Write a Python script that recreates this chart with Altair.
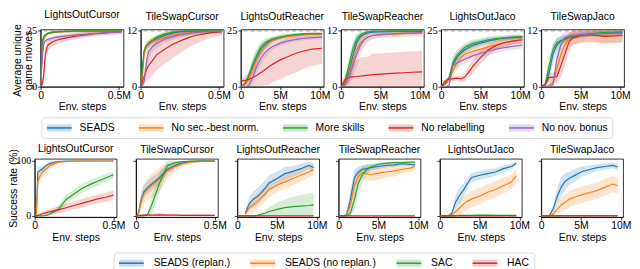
import altair as alt
import pandas as pd

SANS = "Liberation Sans"
SERIF = "Liberation Serif"

TITLES = ["LightsOutCursor", "TileSwapCursor", "LightsOutReacher",
          "TileSwapReacher", "LightsOutJaco", "TileSwapJaco"]
MAX_MOVES = [25, 12, 25, 12, 25, 12]

TOP_METHODS = ["SEADS", "No sec.-best norm.", "More skills", "No relabelling", "No nov. bonus"]
TOP_COLORS = ["#1f77b4", "#ff7f0e", "#2ca02c", "#d62728", "#9467bd"]
BOT_METHODS = ["SEADS (replan.)", "SEADS (no replan.)", "SAC", "HAC"]
BOT_COLORS = ["#1f77b4", "#ff7f0e", "#2ca02c", "#d62728"]

# x positions (millions of env. steps)
X_CUR_TOP = [0, 0.01, 0.02, 0.03, 0.04, 0.05, 0.075, 0.1, 0.15, 0.2, 0.25, 0.3, 0.35, 0.4, 0.45, 0.52]
X_LONG_TOP = [0, 0.5, 1, 1.5, 2, 2.5, 3, 3.5, 4, 5, 6, 7, 8, 9, 10.3]
X_CUR_BOT = [0, 0.01, 0.02, 0.03, 0.04, 0.05, 0.075, 0.1, 0.15, 0.2, 0.25, 0.3, 0.35, 0.4, 0.45, 0.5]
X_LONG_BOT = [0, 0.5, 1, 1.5, 2, 2.5, 3, 3.5, 4, 5, 6, 7, 8, 9, 9.6]

# ---------------- top row: average unique game moves ----------------
# order: SEADS, No sec.-best norm., More skills, No relabelling, No nov. bonus
LOC_TOP = [
    [0, 18, 22, 23, 23.5, 24, 24.3, 24.5, 24.7, 24.8, 24.9, 24.9, 25, 25, 25, 25],
    [0, 16, 21, 22.5, 23.3, 23.8, 24.2, 24.4, 24.6, 24.8, 24.9, 24.9, 25, 25, 25, 25],
    [0, 20, 22.5, 23.2, 23.6, 24, 24.3, 24.5, 24.8, 24.9, 25, 25, 25, 25, 25, 25],
    [0, 1, 5, 14, 17.5, 18.8, 20, 20.8, 21.6, 22.3, 22.8, 23.3, 23.7, 24, 24.3, 24.6],
    [0, 12, 19, 20.5, 21, 21.3, 21.8, 22.2, 22.6, 23, 23.3, 23.6, 23.9, 24.1, 24.3, 24.5],
]
LOC_TOP_BAND = [0.5, 0.8, 0.4,
                [0, 1, 3, 4, 3, 2.5, 2, 1.8, 1.5, 1.3, 1.2, 1.2, 1, 1, 1, 0.8], 1.0]

TSC_TOP = [
    [0, 3, 7, 8.3, 8.8, 9.2, 9.8, 10.3, 11, 11.5, 11.8, 11.9, 12, 12, 12, 12],
    [0, 2, 6.5, 8, 8.6, 9, 9.6, 10, 10.6, 11, 11.3, 11.5, 11.7, 11.8, 11.9, 12],
    [0, 3.5, 7.5, 8.5, 9, 9.4, 10, 10.6, 11.3, 11.7, 11.9, 12, 12, 12, 12, 12],
    [0, 1, 2, 3, 3.8, 4.5, 5.6, 6.8, 8, 9, 9.8, 10.5, 11, 11.3, 11.6, 11.8],
    [0, 0.3, 1, 3, 6, 7.5, 8.6, 9.3, 10.2, 10.7, 11.1, 11.4, 11.6, 11.8, 11.9, 11.9],
]
TSC_TOP_BAND = [0.6,
                [0, 1, 2, 1.5, 1.2, 1, 1, 1, 0.8, 0.8, 0.6, 0.5, 0.5, 0.4, 0.4, 0.3],
                0.5,
                [0, 1, 1.5, 2, 2.5, 3, 3.2, 3.3, 3.2, 3, 2.6, 2.2, 1.8, 1.4, 1.1, 0.8],
                [0, 0.5, 1, 2, 2, 1.5, 1.2, 1, 0.8, 0.7, 0.6, 0.5, 0.5, 0.4, 0.4, 0.3]]

LOR_TOP = [
    [0, 1, 4, 9, 13, 16.5, 18.5, 20, 21, 22, 22.8, 23.2, 23.5, 23.6, 23.7],
    [0, 1, 3.5, 8, 12, 15, 17.5, 19.3, 20.5, 21.8, 22.5, 23, 23.3, 23.5, 23.6],
    [0, 1.5, 5, 10, 14, 17.5, 19.5, 20.5, 21.3, 22.2, 22.9, 23.3, 23.6, 23.7, 23.8],
    [2.5, 2.8, 3.3, 4, 5, 6.2, 7.5, 8.8, 10, 12, 13.5, 15, 16, 16.8, 17.2],
    [0, 0, 0.5, 4, 9, 12.5, 15, 16.8, 18, 19.5, 20.5, 21.2, 21.7, 22, 22.2],
]
LOR_TOP_BAND = [[0, 0.5, 2, 3, 3, 2.5, 2, 1.5, 1.2, 1, 0.8, 0.7, 0.6, 0.5, 0.5],
                [0, 0.5, 2, 3, 3, 2.8, 2.2, 1.8, 1.4, 1.1, 0.9, 0.8, 0.7, 0.6, 0.6],
                [0, 0.6, 2, 3, 3, 2.5, 2, 1.5, 1.2, 1, 0.8, 0.7, 0.6, 0.5, 0.5],
                [1, 2, 3, 4, 5, 6, 7, 8, 8, 8.5, 8.5, 8.5, 8, 7.5, 7],
                [0, 0.3, 1, 3, 3, 3, 2.5, 2, 1.5, 1.2, 1, 1, 1, 1, 1]]

TSR_TOP = [
    [0, 0.5, 3, 6.5, 9.5, 10.8, 11.3, 11.6, 11.7, 11.8, 11.8, 11.9, 11.9, 11.9, 11.9],
    [0, 0.5, 2.5, 5.5, 8, 9.5, 10.3, 10.8, 11, 11.2, 11.3, 11.3, 11.4, 11.5, 11.5],
    [0, 1, 4.5, 8, 10.3, 11.2, 11.6, 11.8, 11.9, 11.9, 12, 12, 12, 12, 12],
    [0, 1.5, 2, 2.1, 2.2, 2.3, 2.4, 2.5, 2.6, 2.7, 2.8, 2.9, 3.0, 3.1, 3.2],
    [0, 0.3, 2, 4.5, 7, 9, 10.2, 10.7, 11, 11.2, 11.3, 11.4, 11.5, 11.5, 11.6],
]
TSR_TOP_BAND = [[0, 0.5, 2, 2.5, 1.5, 0.8, 0.5, 0.4, 0.3, 0.3, 0.3, 0.3, 0.3, 0.3, 0.3],
                [0, 0.5, 2, 2.5, 2, 1.5, 1, 0.8, 0.7, 0.7, 0.7, 0.7, 0.7, 0.7, 0.7],
                [0, 0.8, 2, 1.5, 1, 0.6, 0.4, 0.3, 0.3, 0.8, 0.3, 0.3, 0.3, 0.3, 0.3],
                [0.5, 1, 2, 3, 3.5, 4, 4, 4, 4.5, 4.5, 4.5, 4.5, 4.5, 4.5, 4.5],
                [0, 0.3, 1.5, 2.5, 2.5, 2, 1.5, 1, 0.8, 0.6, 0.5, 0.5, 0.5, 0.5, 0.5]]

LOJ_TOP = [
    [0, 1, 3, 10, 13, 15, 16.5, 17.5, 18.5, 19.5, 20.5, 21.2, 21.7, 22, 22.2],
    [0, 1, 3, 7, 10.5, 13, 14.5, 15.2, 15.8, 16.8, 17.8, 18.8, 19.6, 20.3, 21],
    [0, 1.5, 4, 11, 14, 16, 17.5, 18.5, 19.3, 20.2, 21, 21.5, 21.9, 22.2, 22.4],
    [0, 2.5, 3.5, 3.5, 3.8, 3.5, 4.3, 6.5, 9, 13, 16.5, 18.5, 19.8, 20.4, 21],
    [0, 0, 0.5, 9.5, 10.5, 11.5, 12.3, 13, 13.8, 15, 16, 16.8, 17.5, 18, 18.6],
]
LOJ_TOP_BAND = [[0, 0.5, 1, 2.5, 2.5, 2, 2, 2, 1.8, 1.5, 1.5, 1.2, 1, 1, 1],
                [0, 0.5, 1, 2.5, 3, 2.5, 2.5, 2.5, 2.5, 2, 2, 2, 1.8, 1.5, 1.5],
                [0, 0.5, 1, 2.5, 2.5, 2, 2, 2, 1.8, 1.5, 1.5, 1.2, 1, 1, 1],
                [0, 1, 1, 1, 1, 1.5, 2, 2.5, 3, 3, 2.5, 2, 1.8, 1.5, 1.5],
                [0, 0, 0.5, 2, 2, 2, 2, 2, 2, 2, 2, 1.8, 1.5, 1.5, 1.5]]

TSJ_TOP = [
    [0, 0.3, 3, 7, 9, 9.8, 10.3, 10.6, 10.8, 11.1, 11.3, 11.4, 11.5, 11.5, 11.6],
    [0, 0, 0.3, 1, 4, 7, 9, 10, 10.5, 11, 11, 11, 10.9, 10.9, 11],
    [0, 0.5, 4.5, 8, 9.5, 9.9, 10.1, 10.5, 10.8, 11.1, 11.3, 11.5, 11.6, 11.7, 11.8],
    [0, 0.5, 2, 2, 2.2, 4.5, 7, 9.5, 10.5, 11, 11.2, 11, 10.8, 10.9, 11],
    [0, 0, 0, 0.5, 6, 9, 10.5, 10.8, 11, 11.2, 11.3, 11.4, 11.4, 11.5, 11.5],
]
TSJ_TOP_BAND = [[0, 0.3, 2, 2, 1.5, 1, 0.8, 0.7, 0.6, 0.6, 0.5, 0.5, 0.5, 0.5, 0.5],
                [0, 0, 0.3, 1, 2.5, 2.5, 2, 1.5, 1.5, 1.5, 1.5, 1.5, 1.5, 1.5, 1.5],
                [0, 0.5, 2, 1.5, 1, 0.8, 0.7, 0.6, 0.5, 0.5, 0.5, 0.5, 0.5, 0.5, 0.5],
                [0, 0.5, 1, 1, 1.5, 2.5, 2.5, 2, 1.5, 1.5, 1.5, 1.5, 1.5, 1.5, 1.5],
                [0, 0, 0, 0.5, 2.5, 2, 1.2, 1, 0.8, 0.7, 0.6, 0.6, 0.6, 0.6, 0.6]]

# ---------------- bottom row: success rate (%) ----------------
# order: SEADS (replan.), SEADS (no replan.), SAC, HAC
LOC_BOT = [
    [0, 0, 80, 82, 84, 86, 92, 96, 99, 100, 100, 100, 100, 100, 100, 100],
    [0, 0, 62, 70, 75, 80, 86, 92, 98, 99, 100, 100, 100, 100, 100, 100],
    [0, 0, 0, 0, 0, 0, 1, 4, 12, 30, 40, 50, 57, 63, 69, 75],
    [0, 0, 1, 2, 3, 4, 6, 8, 11, 15, 19, 23, 27, 31, 34, 38],
]
LOC_BOT_BAND = [[0, 0, 12, 8, 6, 5, 4, 3, 1, 0, 0, 0, 0, 0, 0, 0],
                [0, 0, 15, 12, 10, 9, 8, 6, 3, 1, 0.5, 0, 0, 0, 0, 0],
                [0, 0, 0, 0, 0, 0, 1, 3, 6, 8, 8, 8, 8, 8, 7, 6],
                [0, 0, 1, 2, 3, 3, 4, 5, 6, 7, 7, 8, 8, 8, 8, 8]]

TSC_BOT = [
    [0, 0, 12, 26, 36, 44, 52, 58, 70, 85, 92, 97, 99, 100, 100, 100],
    [0, 0, 8, 22, 32, 40, 48, 55, 67, 82, 90, 95, 98, 99, 100, 100],
    [0, 0, 0, 0, 0, 0, 3, 20, 60, 92, 97, 99, 100, 100, 100, 100],
    [0, 0, 0.5, 1, 1, 1.5, 1.5, 1.5, 2, 1.5, 1.5, 1, 1, 1, 1, 1],
]
TSC_BOT_BAND = [[0, 0, 8, 10, 12, 12, 12, 12, 12, 8, 5, 3, 1, 0, 0, 0],
                [0, 0, 8, 12, 15, 18, 20, 22, 22, 15, 8, 5, 2, 1, 0, 0],
                [0, 0, 0, 0, 0, 0, 3, 15, 18, 8, 3, 1, 0, 0, 0, 0],
                [0, 0, 1, 2, 2, 2.5, 2.5, 2.5, 3, 2.5, 2.5, 2, 2, 2, 2, 2]]

LOR_BOT = [
    [None, None, 5, 22, 30, 35, 42, 50, 60, 68, 77, 81, 86, 92, 88],
    [None, None, 3, 15, 20, 26, 33, 40, 48, 56, 62, 68, 74, 80, 85],
    [0, 0, 0, 0, 0, 1, 3, 5, 8, 12, 15, 17, 18, 19, 20],
    [0, 0, 0, 0, 0, 0, 0, 0, 0, 0, 0, 0, 0, 0, 0],
]
LOR_BOT_BAND = [[0, 0, 3, 12, 15, 15, 15, 15, 14, 13, 12, 10, 9, 6, 8],
                [0, 0, 3, 10, 14, 14, 14, 14, 14, 13, 13, 12, 12, 10, 10],
                [0, 0, 0, 0, 0, 1, 3, 5, 8, 12, 15, 18, 20, 22, 22],
                0.5]

TSR_BOT = [
    [0, 0, 2, 30, 70, 80, 85, 86, 88, 90, 92, 93, 95, 94, 93],
    [0, 0, 1, 20, 55, 72, 78, 77, 75, 78, 80, 82, 85, 87, 90],
    [0, 0, 0, 5, 30, 60, 75, 84, 89, 94, 96, 97, 97, 98, 98],
    [0, 0, 0, 0, 0, 0, 0, 0, 0, 0, 0, 0, 0, 0, 0],
]
TSR_BOT_BAND = [[0, 0, 2, 20, 15, 10, 8, 7, 6, 5, 4, 4, 3, 3, 3],
                [0, 0, 2, 20, 20, 12, 10, 12, 12, 12, 10, 10, 8, 7, 6],
                [0, 0, 0, 5, 20, 20, 15, 10, 6, 3, 2, 2, 2, 1, 1],
                0.5]

LOJ_BOT = [
    [0, 0, 0, 5, 26, 38, 48, 60, 70, 74, 77, 80, 86, 90, 96],
    [0, 0, 0, 2, 8, 15, 22, 27, 31, 36, 43, 48, 55, 62, 73],
    [0, 0, 0, 0, 0.5, 1, 1, 1, 1, 1.5, 1.5, 1, 1, 1, 1],
    [0, 0, 0, 0, 0, 0, 0, 0, 0, 0, 0, 0, 0, 0, 0],
]
LOJ_BOT_BAND = [[0, 0, 0, 4, 12, 15, 12, 10, 8, 8, 8, 7, 6, 5, 4],
                [0, 0, 0, 2, 6, 12, 15, 15, 15, 15, 15, 15, 14, 14, 12],
                1, 0.5]

TSJ_BOT = [
    [0, 0, 0, 12, 35, 52, 63, 68, 72, 80, 84, 88, 90, 92, 89],
    [0, 0, 0, 3, 12, 20, 25, 30, 33, 38, 42, 46, 52, 58, 55],
    [0, 0, 0, 0, 0, 0.5, 0.5, 0.5, 0.5, 0.5, 0.5, 0.5, 0.5, 0.5, 0.5],
    [0, 0, 0, 0, 0, 0, 0, 0, 0, 0, 0, 0, 0, 0, 0],
]
TSJ_BOT_BAND = [[0, 0, 0, 8, 15, 18, 15, 12, 12, 10, 8, 6, 6, 5, 6],
                [0, 0, 0, 3, 10, 12, 15, 15, 15, 15, 15, 15, 15, 15, 15],
                0.5, 0.5]

TOP_DATA = [(X_CUR_TOP, LOC_TOP, LOC_TOP_BAND), (X_CUR_TOP, TSC_TOP, TSC_TOP_BAND),
            (X_LONG_TOP, LOR_TOP, LOR_TOP_BAND), (X_LONG_TOP, TSR_TOP, TSR_TOP_BAND),
            (X_LONG_TOP, LOJ_TOP, LOJ_TOP_BAND), (X_LONG_TOP, TSJ_TOP, TSJ_TOP_BAND)]
BOT_DATA = [(X_CUR_BOT, LOC_BOT, LOC_BOT_BAND), (X_CUR_BOT, TSC_BOT, TSC_BOT_BAND),
            (X_LONG_BOT, LOR_BOT, LOR_BOT_BAND), (X_LONG_BOT, TSR_BOT, TSR_BOT_BAND),
            (X_LONG_BOT, LOJ_BOT, LOJ_BOT_BAND), (X_LONG_BOT, TSJ_BOT, TSJ_BOT_BAND)]

ZW = "\u200b"  # keeps the band legend separate from the line legend


def build_df(xs, means, bands, methods, ylo, yhi):
    rows = []
    for name, m, b in zip(methods, means, bands):
        bl = b if isinstance(b, list) else [b] * len(xs)
        for x, v, h in zip(xs, m, bl):
            if v is None:
                continue
            rows.append({"x": x, "m": v, "lo": max(v - h, ylo), "hi": min(v + h, yhi),
                         "series": name, "band": name + ZW})
    return pd.DataFrame(rows)


def legends(x, y, label_offset, col_pad, pad, ncol):
    common = dict(orient="none", legendX=x, legendY=y, direction="horizontal",
                  columns=ncol, title=None, symbolSize=100, symbolStrokeWidth=1.5,
                  labelFont=SANS, labelFontSize=10.5, labelOffset=label_offset,
                  columnPadding=col_pad, padding=pad, labelLimit=300, labelColor="black")
    stroke_leg = alt.Legend(symbolType="M-1,0H4", symbolFillColor="transparent",
                            strokeColor="#d9d9d9", cornerRadius=3, **common)
    fill_leg = alt.Legend(symbolType="M-1,-0.7H4V0.7H-1Z", symbolOpacity=0.25,
                          symbolStrokeColor="transparent", labelOpacity=0, **common)
    return stroke_leg, fill_leg


def panel(df, title, xdom, xticks, ydom, yticks, ylabels, ytitle_kw, methods, colors,
          leg, w, h, ymax, ylabel_size, title_dy):
    xenc = alt.X("x:Q", scale=alt.Scale(domain=xdom, nice=False, zero=False),
                 axis=alt.Axis(values=xticks,
                               labelExpr="datum.value == 0 ? '0' : datum.value + 'M'",
                               title="Env. steps", tickSize=3, labelPadding=1, titlePadding=1,
                               labelFlush=False, labelFont=SANS, labelFontSize=10.5,
                               titleFont=SANS, titleFontSize=10.5, titleFontWeight="normal"))
    ykw = dict(values=yticks, labels=ylabels, tickSize=3, labelPadding=1, labelFont=SERIF,
               labelFontSize=ylabel_size, titleFont=SANS, titleFontSize=10.5,
               titleFontWeight="normal")
    ykw.update(ytitle_kw)
    yscale = alt.Scale(domain=ydom, nice=False, zero=False)
    if leg is not None:
        stroke_leg, fill_leg = leg
    else:
        stroke_leg, fill_leg = None, None
    base = alt.Chart(df)
    band = base.mark_area(opacity=0.2, clip=True).encode(
        x=xenc,
        y=alt.Y("lo:Q", scale=yscale, axis=alt.Axis(**ykw)),
        y2="hi:Q",
        fill=alt.Fill("band:N", scale=alt.Scale(domain=[m + ZW for m in methods], range=colors),
                      legend=fill_leg),
    )
    line = base.mark_line(strokeWidth=1.2, clip=True).encode(
        x=xenc,
        y=alt.Y("m:Q", scale=yscale, axis=alt.Axis(**ykw)),
        stroke=alt.Stroke("series:N", scale=alt.Scale(domain=methods, range=colors),
                          legend=stroke_leg),
    )
    layers = [band]
    if ymax is not None:
        rule = alt.Chart(pd.DataFrame({"ymax": [ymax]})).mark_rule(
            strokeDash=[4, 3], color="#8c8c8c", strokeWidth=0.9).encode(
            y=alt.Y("ymax:Q", scale=yscale))
        layers.append(rule)
    layers.append(line)
    return alt.layer(*layers).properties(
        width=w, height=h,
        title=alt.TitleParams(title, font=SANS, fontSize=10.5, fontWeight="normal",
                              offset=3, frame="group", anchor="middle", dy=title_dy))


TOP_W, TOP_H = 84, 58
BOT_W, BOT_H = 83, 59

top_panels = []
for i, (xs, means, bands) in enumerate(TOP_DATA):
    cursor = i < 2
    ytop = MAX_MOVES[i] * 1.025
    df = build_df(xs, means, bands, TOP_METHODS, 0, ytop)
    if i == 0:
        ytk = dict(title=["Average unique", "game moves"], titleX=-23, titleY=31,
                   titleBaseline="middle", titleLineHeight=11, titleFontSize=10.5)
        leg = legends(1, 89, 22, 21, 4.5, 5)
    else:
        ytk = dict(title=None)
        leg = None
    top_panels.append(panel(df, TITLES[i], [0, 0.53] if cursor else [0, 10.5],
                            [0, 0.5] if cursor else [0, 5, 10], [0, ytop],
                            [0, MAX_MOVES[i]], True, ytk, TOP_METHODS, TOP_COLORS, leg,
                            TOP_W, TOP_H, MAX_MOVES[i], 10.5, 0))

bot_panels = []
for i, (xs, means, bands) in enumerate(BOT_DATA):
    cursor = i < 2
    df = build_df(xs, means, bands, BOT_METHODS, 0, 104)
    if i == 0:
        ytk = dict(title="Success rate (%)", titleX=-21.5, titleBaseline="middle")
        leg = legends(80, 95, 24, 17, 4.5, 4)
        tdy = 9
    else:
        ytk = dict(title=None)
        leg = None
        tdy = 0
    bot_panels.append(panel(df, TITLES[i], [0, 0.52] if cursor else [0, 10.3],
                            [0, 0.5] if cursor else [0, 5, 10], [-2, 104],
                            [0, 100], i == 0, ytk, BOT_METHODS, BOT_COLORS, leg,
                            BOT_W, BOT_H, None, 10, tdy))

spacer = alt.Chart(pd.DataFrame({"a": [0]})).mark_point(opacity=0).encode(
    x=alt.X("a:Q", axis=None), y=alt.Y("a:Q", axis=None)
).properties(width=6, height=TOP_H, view=alt.ViewBackground(strokeOpacity=0))

IND = dict(fill="independent", stroke="independent")

top_inner = alt.hconcat(*top_panels, spacing=17.4, bounds="flush").resolve_scale(**IND).resolve_legend(**IND)
top_row = alt.hconcat(spacer, top_inner, spacing=0, bounds="flush").resolve_scale(**IND).resolve_legend(**IND)
bot_row = alt.hconcat(*bot_panels, spacing=19.6, bounds="flush").resolve_scale(**IND).resolve_legend(**IND)

# nested concat rows count as zero-height in a flush layout, so the spacing is
# the distance from the top row's plot top to the bottom row's plot top
chart = alt.vconcat(top_row, bot_row, spacing=131, bounds="flush").resolve_scale(**IND).resolve_legend(**IND).properties(
    padding=0
).configure_view(
    stroke="black", strokeWidth=0.8
).configure_axis(
    domainColor="black", tickColor="black", labelColor="black", titleColor="black",
    grid=False, domainWidth=0.8, tickWidth=0.8
).configure_title(color="black")

chart.save("out.html", embed_options={"renderer": "svg", "actions": False})
